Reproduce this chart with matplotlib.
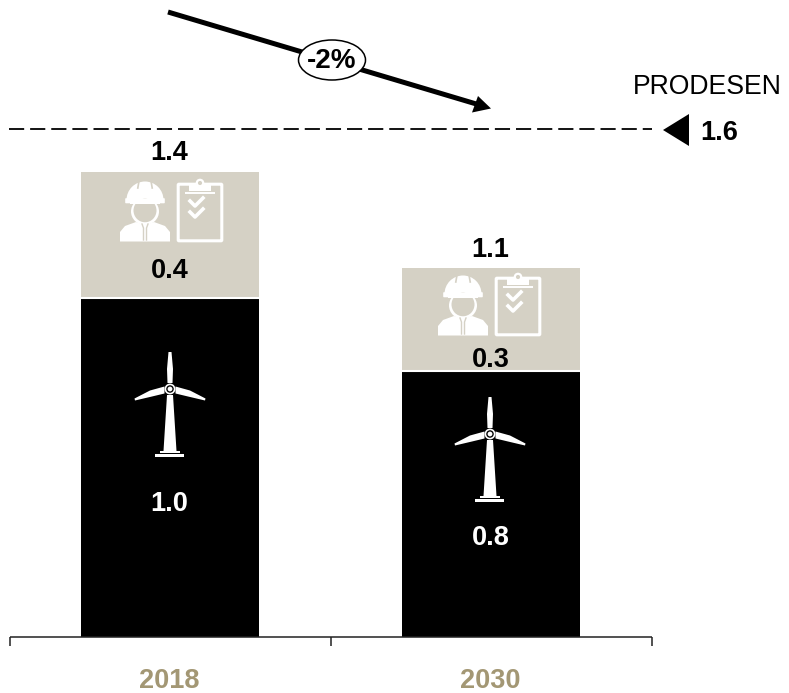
import matplotlib
matplotlib.use("Agg")
import matplotlib.pyplot as plt
from matplotlib.patches import Circle, Ellipse, FancyBboxPatch, Polygon, Wedge

plt.rcParams['font.family'] = ['Liberation Sans', 'DejaVu Sans']

years = ['2018', '2030']
turbine_vals = [1.02, 0.80]
service_vals = [0.38, 0.31]
turbine_labels = ['1.0', '0.8']
service_labels = ['0.4', '0.3']
total_labels = ['1.4', '1.1']
target_pos = 1.53
target_label = '1.6'

BEIGE = '#D5D1C5'
GOLD = '#A39774'
W, H = 789, 693
BASE_PX = 637
PX_PER_UNIT = 332
X0_PX = 170
PX_PER_CAT = 321


def worker(ax, cx, cy):
    # hard hat, face and shoulders, offsets in pixels from the icon centre
    ax.add_patch(Wedge((cx, cy - 12), 18.5, 180, 360, fc='white', ec='none'))
    ax.add_patch(FancyBboxPatch((cx - 19, cy - 13), 38, 3.5, boxstyle='round,pad=0.8',
                                fc='white', ec='none'))
    for dx in (-6, 6):
        ax.plot([cx + dx, cx + dx * 1.2], [cy - 31, cy - 24], color=BEIGE, lw=1.2)
    ax.add_patch(Ellipse((cx, cy - 0.5), 28, 27, fc='white', ec='none'))
    ax.add_patch(Ellipse((cx, cy - 1.5), 23, 23.5, fc=BEIGE, ec='none'))
    ax.add_patch(Polygon([(cx - 15, cy - 8), (cx + 15, cy - 8), (cx + 15, cy - 13), (cx - 15, cy - 13)],
                         fc='white', ec='none'))
    ax.add_patch(Polygon([(cx - 25, cy + 29.5), (cx - 25, cy + 20), (cx - 20, cy + 14),
                          (cx - 9, cy + 10), (cx, cy + 13), (cx + 9, cy + 10), (cx + 20, cy + 14),
                          (cx + 25, cy + 20), (cx + 25, cy + 29.5)], fc='white', ec='none'))
    ax.plot([cx - 3, cx - 1.5, cx - 1.5], [cy + 12, cy + 16, cy + 28], color=BEIGE, lw=1)
    ax.plot([cx + 3, cx + 1.5, cx + 1.5], [cy + 12, cy + 16, cy + 28], color=BEIGE, lw=1)


def clipboard(ax, cx, cy):
    ax.add_patch(FancyBboxPatch((cx - 21, cy - 27), 42, 55, boxstyle='round,pad=0.8',
                                fc='none', ec='white', lw=2.2))
    ax.add_patch(Polygon([(cx - 15, cy - 19), (cx + 15, cy - 19)], closed=False,
                         fc='none', ec='white', lw=1.4))
    ax.add_patch(Polygon([(cx - 11, cy - 27), (cx + 11, cy - 27), (cx + 11, cy - 21), (cx - 11, cy - 21)],
                         fc='white', ec='none'))
    ax.add_patch(Circle((cx, cy - 29), 3.2, fc=BEIGE, ec='white', lw=1.6))
    for dy in (-11, 0):
        ax.plot([cx - 10, cx - 5, cx + 3], [cy + dy, cy + dy + 5, cy + dy - 3], color='white', lw=2.6)


def turbine(ax, cx, cy):
    ax.add_patch(Polygon([(cx - 3, cy + 6), (cx + 3, cy + 6), (cx + 6.5, cy + 62), (cx - 6.5, cy + 62)],
                         fc='white', ec='none'))
    ax.add_patch(Polygon([(cx - 10, cy + 62), (cx + 10, cy + 62), (cx + 10, cy + 64), (cx - 10, cy + 64)],
                         fc='white', ec='none'))
    ax.add_patch(Polygon([(cx - 14.5, cy + 65), (cx + 14.5, cy + 65), (cx + 14.5, cy + 67.5), (cx - 14.5, cy + 67.5)],
                         fc='white', ec='none'))
    ax.add_patch(Polygon([(cx - 1.5, cy - 37), (cx + 1.5, cy - 37), (cx + 3, cy - 20), (cx + 2.5, cy - 6),
                          (cx - 2.5, cy - 6), (cx - 3, cy - 20)], fc='white', ec='none'))
    for s in (-1, 1):
        ax.add_patch(Polygon([(cx + s * 5.5, cy - 2.5), (cx + s * 20, cy + 1.5), (cx + s * 35.5, cy + 9.5),
                              (cx + s * 35, cy + 11.5), (cx + s * 18, cy + 7.5), (cx + s * 5.5, cy + 4.5)],
                             fc='white', ec='none'))
    ax.add_patch(Circle((cx, cy), 4.6, fc='black', ec='white', lw=1.2))
    ax.add_patch(Circle((cx, cy), 2.4, fc='white', ec='none'))


fig = plt.figure(figsize=(W / 100, H / 100), dpi=100)
ax = fig.add_axes([0, 0, 1, 1])
ax.set_xlim(-X0_PX / PX_PER_CAT, (W - X0_PX) / PX_PER_CAT)
ax.set_ylim((BASE_PX - H) / PX_PER_UNIT, BASE_PX / PX_PER_UNIT)
ax.axis('off')

x = list(range(len(years)))
bar_w = 178 / PX_PER_CAT
ax.bar(x, turbine_vals, width=bar_w, color='black', zorder=2)
ax.bar(x, service_vals, width=bar_w, bottom=turbine_vals, color=BEIGE, zorder=2)
for i in x:
    ax.plot([i - bar_w / 2, i + bar_w / 2], [turbine_vals[i]] * 2, color='white', lw=1.5,
            solid_capstyle='butt', zorder=3)
    top = turbine_vals[i] + service_vals[i]
    ax.text(i - 0.002, top + 0.057, total_labels[i], ha='center', va='center',
            fontsize=19.5, fontweight='bold', color='black')
    ax.text(i - 0.002, turbine_vals[i] + (0.082 if i == 0 else 0.033), service_labels[i], ha='center', va='center',
            fontsize=19.5, fontweight='bold', color='black', zorder=4)
    ax.text(i - 0.002, 0.402 if i == 0 else 0.297, turbine_labels[i], ha='center', va='center',
            fontsize=19.5, fontweight='bold', color='white', zorder=4)
    ax.text(i - 0.002, -0.133, years[i], ha='center', va='center', fontsize=19.5,
            fontweight='bold', color=GOLD)

# axis with ticks between the categories
ax.plot([-0.497, 1.5], [0, 0], color='#222222', lw=1.1, zorder=3, solid_capstyle='butt')
for t in (-0.497, 0.5, 1.5):
    ax.plot([t, t], [0, -0.027], color='#222222', lw=1.1, solid_capstyle='butt')

ax.plot([-0.503, 1.502], [target_pos, target_pos], color='black', lw=1.3, dashes=(8.4, 3.3))

# overlay in pixel coordinates for icons and callouts
ov = fig.add_axes([0, 0, 1, 1], facecolor='none')
ov.set_xlim(0, W)
ov.set_ylim(H, 0)
ov.axis('off')

ov.add_patch(Polygon([(663, 130), (689, 114), (689, 146)], fc='black', ec='none'))
ov.text(719, 133, target_label, ha='center', va='center', fontsize=19.5, fontweight='bold')
ov.text(707, 87, 'PRODESEN', ha='center', va='center', fontsize=19.2)

ov.plot([168, 478], [12, 104.5], color='black', lw=3.6, solid_capstyle='butt')
ov.add_patch(Polygon([(491, 108.5), (472, 112.5), (478, 96)], fc='black', ec='none'))
ov.add_patch(Ellipse((332, 60), 67, 40, fc='white', ec='black', lw=1.1, zorder=5))
ov.text(332, 61, '-2%', ha='center', va='center', fontsize=20, fontweight='bold', zorder=6)

worker(ov, 145, 212)
clipboard(ov, 200, 212)
worker(ov, 463, 306)
clipboard(ov, 518, 306)
turbine(ov, 170, 389)
turbine(ov, 490, 434)

fig.savefig('out.png', dpi=100)
